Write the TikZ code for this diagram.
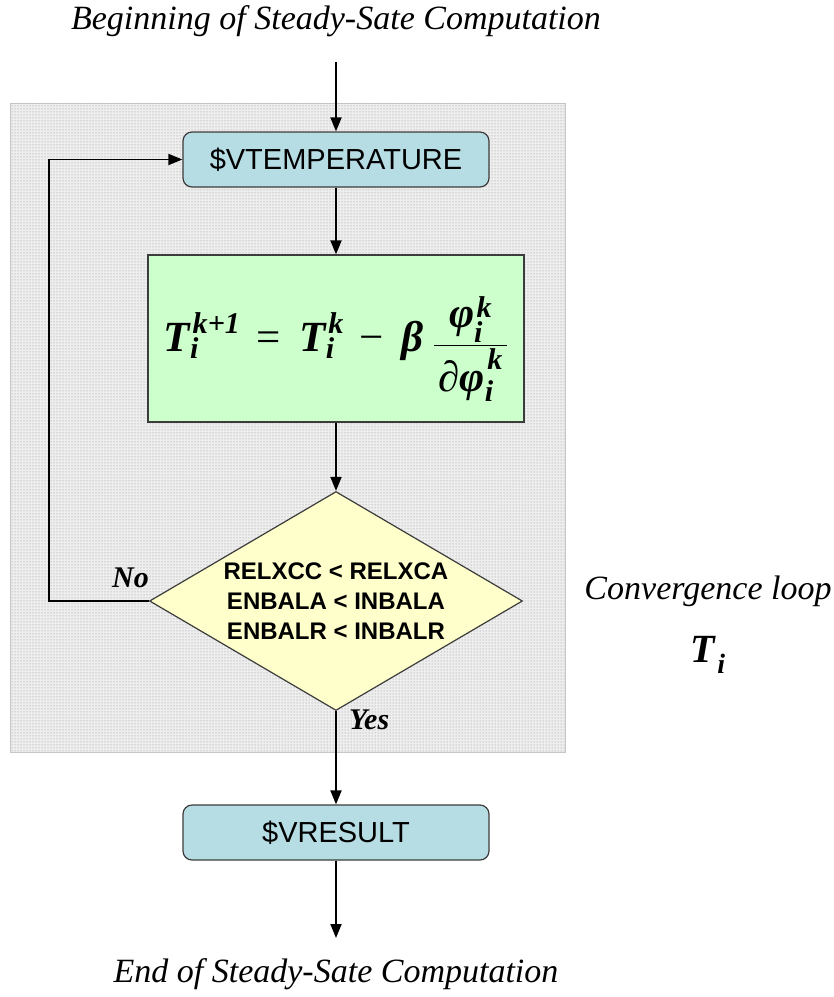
\documentclass[tikz,border=0pt]{standalone}
\usepackage{fontspec}
\usepackage{amsmath}
\setmainfont{Liberation Serif}
\newfontfamily\arialf{Liberation Sans}
\usetikzlibrary{shapes.geometric,arrows.meta,patterns}

\definecolor{boxteal}{RGB}{183,221,228}
\definecolor{boxgreen}{RGB}{204,255,204}
\definecolor{boxyellow}{RGB}{255,255,204}
\definecolor{panelgray}{RGB}{238,238,238}
\definecolor{edgegray}{RGB}{60,60,60}

\newcommand\bi[1]{\text{\bfseries\itshape #1}}
\newcommand\sk[1]{{\kern2.5pt\bi{#1}}}
\newcommand\eqsign{\mathrel{\kern9pt\text{=}\kern12pt}}
\newcommand\minsign{\mathbin{\kern10pt\text{−}\kern12pt}}

\begin{document}
\begin{tikzpicture}[x=1pt,y=-1pt,
  flowline/.style={draw=black, line width=1.8pt},
  flowarrow/.style={flowline, -{Triangle[length=14pt,width=11pt]}},
  panel/.style={draw=black!22, line width=1pt, fill=panelgray,
     postaction={pattern=dots, pattern color=black!45},
     minimum width=555pt, minimum height=649pt, inner sep=0pt},
  procbox/.style={draw=edgegray, line width=1.2pt, fill=boxteal, rounded corners=9pt,
     minimum width=306pt, minimum height=55pt, inner sep=0pt,
     font=\arialf\fontsize{29}{34}\selectfont},
  eqbox/.style={draw=edgegray, line width=1.2pt, fill=boxgreen,
     minimum width=376pt, minimum height=167pt, inner sep=0pt},
  eqfont/.style={font=\fontsize{43}{48}\selectfont, inner sep=0pt},
  decision/.style={diamond, draw=edgegray, line width=1.2pt, fill=boxyellow, aspect=1.7,
     minimum width=373pt, minimum height=219pt, inner sep=0pt, align=center,
     font=\arialf\bfseries\fontsize{24}{30}\selectfont},
  caption/.style={font=\itshape\fontsize{34}{40}\selectfont, inner sep=0pt},
  branch/.style={font=\bfseries\itshape\fontsize{30}{36}\selectfont, inner sep=0pt}
]
\useasboundingbox (0,0) rectangle (834,997);

\node[panel] (panel) at (287.5,427.5) {};

\node[caption, anchor=base] (title) at (336,29) {Beginning of Steady-Sate Computation};
\coordinate (tstart) at (336,62);

\node[procbox] (vtemp) at (336,159.5) {\$VTEMPERATURE};
\node[eqbox] (eq) at (336,338.5) {};
\node[eqfont] (eqtext) at (336,349)
  {$\bi{T}_{\bi{i}}^{\sk{k+1}} \eqsign \bi{T}_{\bi{i}}^{\sk{k}} \minsign \bi{β}\kern10pt\dfrac{\kern4pt\bi{φ}_{\bi{i}}^{\sk{k}}\kern4pt}{\kern4pt\bi{∂φ}_{\bi{i}}^{\sk{k}}\kern4pt}$};
\node[decision] (dia) at (336,601) {RELXCC < RELXCA\\ENBALA < INBALA\\ENBALR < INBALR};
\node[procbox] (vres) at (336,832.5) {\$VRESULT};
\coordinate (eend) at (336,938);
\node[caption, anchor=base] (endt) at (336,982) {End of Steady-Sate Computation};

\node[branch, anchor=south east] (no) at (149,588) {No};
\node[branch, anchor=north west] (yes) at (349,710) {Yes};

\node[caption] (conv) at (708,591) {Convergence loop};
\node[font=\fontsize{40}{44}\selectfont, inner sep=0pt] (ti) at (708,655) {$\bi{T}_{\sk{i}}$};

\coordinate (loopx) at (49,0);

\draw[flowarrow] (tstart) -- (vtemp.north);
\draw[flowarrow] (vtemp.south) -- (eq.north);
\draw[flowarrow] (eq.south) -- (dia.north);
\draw[flowarrow] (dia.west) -- (loopx |- dia.west) -- (loopx |- vtemp.west) -- (vtemp.west);
\draw[flowarrow] (dia.south) -- (vres.north);
\draw[flowarrow] (vres.south) -- (eend);
\end{tikzpicture}
\end{document}
